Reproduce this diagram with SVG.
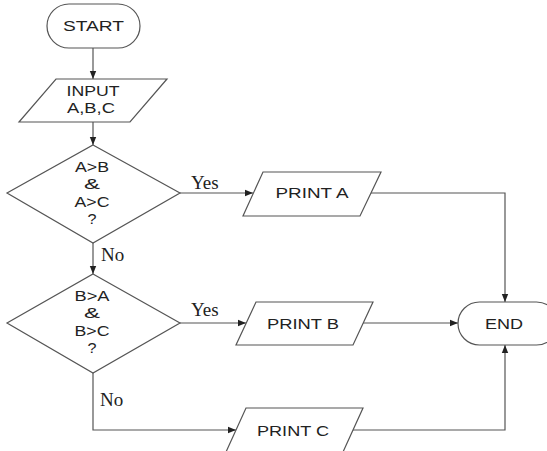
<svg xmlns="http://www.w3.org/2000/svg" width="547" height="451" viewBox="0 0 547 451">
<defs>
<marker id="ah" viewBox="0 0 10 10" refX="10" refY="5" markerWidth="8" markerHeight="8" markerUnits="userSpaceOnUse" orient="auto">
<path d="M0,1 L10,5 L0,9 z" fill="#222"/>
</marker>
<style>
.s{fill:#fff;stroke:#555;stroke-width:1.2}
.t{font-family:"Liberation Sans",Arial,sans-serif;font-size:15px;fill:#222;text-anchor:middle}
.l{font-family:"Liberation Serif","Times New Roman",serif;font-size:19px;fill:#222}
.c{fill:none;stroke:#555;stroke-width:1.2;marker-end:url(#ah)}
</style>
</defs>
<rect width="547" height="451" fill="#fff"/>
<g id="connectors">
<path class="c" d="M93,48 V79"/>
<path class="c" d="M93,122 V145"/>
<path class="c" d="M180,193 H253"/>
<path class="c" d="M370,193 H505 V302"/>
<path class="c" d="M93,243 V274"/>
<path class="c" d="M180,323 H246"/>
<path class="c" d="M363,323 H458"/>
<path class="c" d="M93,373 V430 H236"/>
<path class="c" d="M353,430 H505 V345"/>
<text class="l" x="191" y="189">Yes</text>
<text class="l" x="101" y="261">No</text>
<text class="l" x="191" y="316">Yes</text>
<text class="l" x="100" y="406">No</text>
</g>
<g id="start">
<rect class="s" x="47" y="4" width="93" height="44" rx="22" ry="22"/>
<text class="t" x="93.5" y="31" textLength="61" lengthAdjust="spacingAndGlyphs">START</text>
</g>
<g id="input">
<path class="s" d="M56,79 H167 L130,122 H19 Z"/>
<text class="t" x="93" y="96" textLength="53" lengthAdjust="spacingAndGlyphs">INPUT</text>
<text class="t" x="91" y="113" textLength="48" lengthAdjust="spacingAndGlyphs">A,B,C</text>
</g>
<g id="decision1">
<path class="s" d="M93,145 L180,193 L93,243 L7,193 Z"/>
<text class="t" x="92" y="172" textLength="34" lengthAdjust="spacingAndGlyphs">A&gt;B</text>
<text class="t" x="92" y="189" textLength="16" lengthAdjust="spacingAndGlyphs">&amp;</text>
<text class="t" x="92" y="207" textLength="35" lengthAdjust="spacingAndGlyphs">A&gt;C</text>
<text class="t" x="92" y="224" textLength="9" lengthAdjust="spacingAndGlyphs">?</text>
</g>
<g id="printA">
<path class="s" d="M263,172 H381 L360,216 H243 Z"/>
<text class="t" x="312" y="198" textLength="73" lengthAdjust="spacingAndGlyphs">PRINT A</text>
</g>
<g id="decision2">
<path class="s" d="M93,274 L180,323 L93,373 L7,323 Z"/>
<text class="t" x="92" y="301" textLength="35" lengthAdjust="spacingAndGlyphs">B&gt;A</text>
<text class="t" x="92" y="318" textLength="16" lengthAdjust="spacingAndGlyphs">&amp;</text>
<text class="t" x="92" y="336" textLength="35" lengthAdjust="spacingAndGlyphs">B&gt;C</text>
<text class="t" x="92" y="353" textLength="9" lengthAdjust="spacingAndGlyphs">?</text>
</g>
<g id="printB">
<path class="s" d="M256,302 H373 L353,345 H236 Z"/>
<text class="t" x="303" y="329" textLength="72" lengthAdjust="spacingAndGlyphs">PRINT B</text>
</g>
<g id="printC">
<path class="s" d="M246,408 H363 L343,452 H226 Z"/>
<text class="t" x="293" y="436" textLength="72" lengthAdjust="spacingAndGlyphs">PRINT C</text>
</g>
<g id="end">
<rect class="s" x="458" y="302" width="100" height="43" rx="21.5" ry="21.5"/>
<text class="t" x="504" y="329" textLength="38" lengthAdjust="spacingAndGlyphs">END</text>
</g>
</svg>
